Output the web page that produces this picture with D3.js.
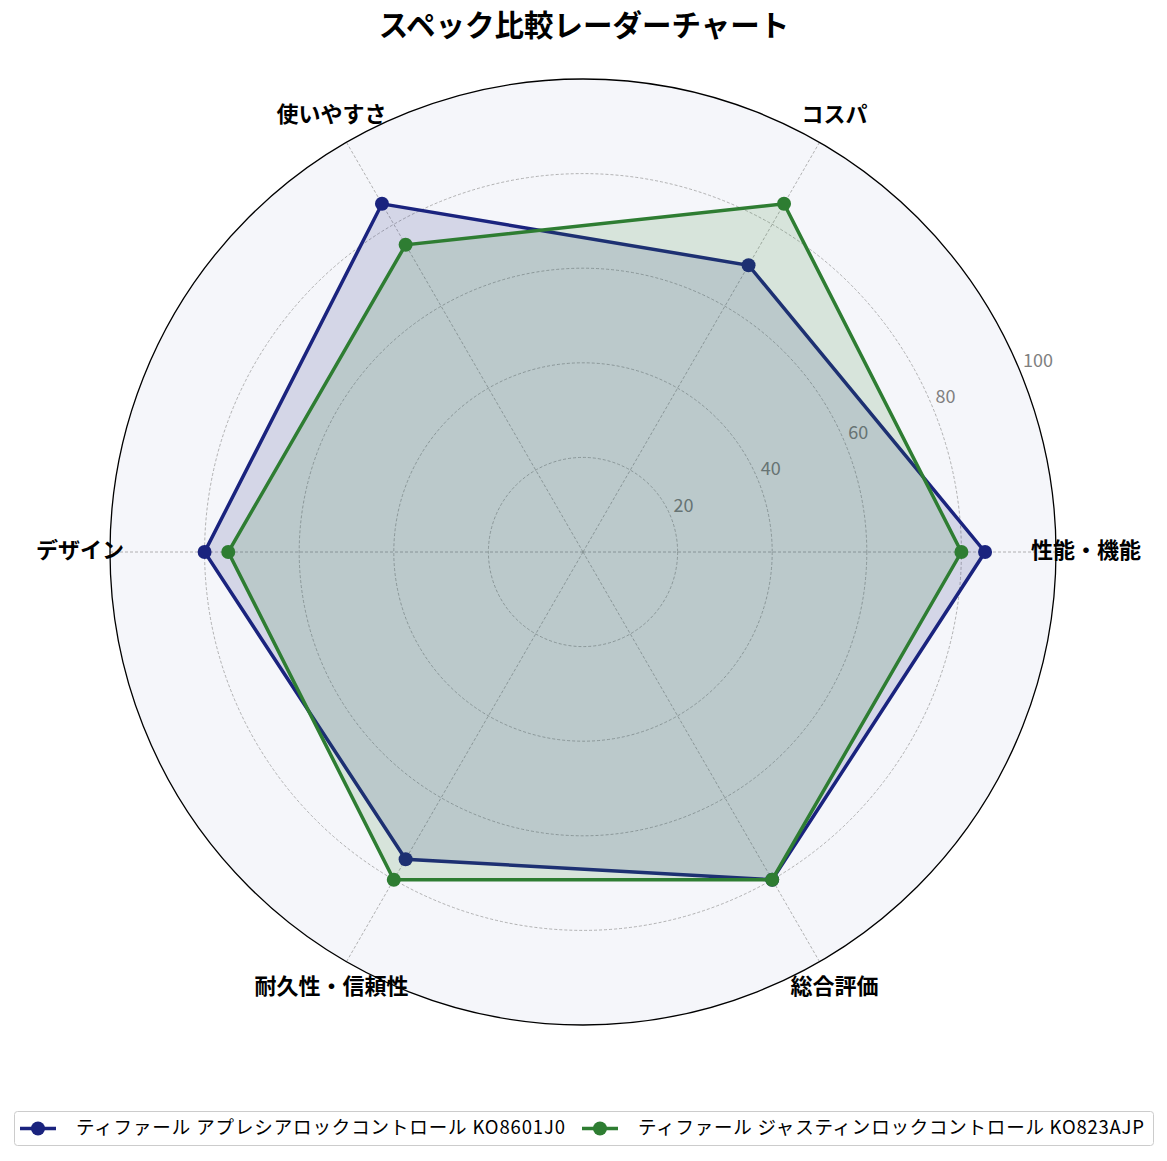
<!DOCTYPE html>
<html>
<head>
  <meta charset="utf-8">
  <script src="https://d3js.org/d3.v7.min.js"></script>
  <style>
    body { margin: 0; background: #fff; }
    text { font-family: "Noto Sans CJK JP", "Noto Sans", sans-serif; }
  </style>
</head>
<body>
<script>
// data
var categories = ["性能・機能", "コスパ", "使いやすさ", "デザイン", "耐久性・信頼性", "総合評価"];
var seriesNames = ["ティファール アプレシアロックコントロール KO8601J0", "ティファール ジャスティンロックコントロール KO823AJP"];
var seriesA = [85, 70, 85, 80, 75, 80];
var seriesB = [80, 85, 75, 75, 80, 80];
var ringTicks = [20, 40, 60, 80, 100];
var colors = ["#1a237e", "#2e7d32"];

var W = 1167, H = 1161;
var cx = 583, cy = 552, R = 473;

var svg = d3.select("body").append("svg")
  .attr("width", W).attr("height", H);

// title
svg.append("text")
  .attr("x", cx + 1).attr("y", 28)
  .attr("text-anchor", "middle").attr("dominant-baseline", "middle")
  .attr("font-size", 29.5).attr("font-weight", "bold")
  .text("スペック比較レーダーチャート");

var r = d3.scaleLinear().domain([0, 100]).range([0, R]);
// first category at 3 o'clock, going counter-clockwise
var ang = function(i) { return i * 2 * Math.PI / categories.length; };
var px = function(i, v) { return cx + r(v) * Math.cos(ang(i)); };
var py = function(i, v) { return cy - r(v) * Math.sin(ang(i)); };

var g = svg.append("g");

// background
g.append("circle").attr("cx", cx).attr("cy", cy).attr("r", R)
  .attr("fill", "#f5f6fa");

// ring grid
g.selectAll(".ring").data(ringTicks.slice(0, -1)).enter().append("circle")
  .attr("cx", cx).attr("cy", cy).attr("r", function(d) { return r(d); })
  .attr("fill", "none").attr("stroke", "#a0a0a0")
  .attr("stroke-width", 0.8).attr("stroke-dasharray", "3,2");

// spokes
g.selectAll(".spoke").data(categories).enter().append("line")
  .attr("x1", cx).attr("y1", cy)
  .attr("x2", function(d, i) { return px(i, 100); })
  .attr("y2", function(d, i) { return py(i, 100); })
  .attr("stroke", "#a0a0a0").attr("stroke-width", 0.8).attr("stroke-dasharray", "3,2");

// radial tick labels at 22.5 deg (left aligned, just above the ring)
var la = 22.5 * Math.PI / 180;
g.selectAll(".rlab").data(ringTicks).enter().append("text")
  .attr("x", function(d) { return cx + r(d) * Math.cos(la) + 3; })
  .attr("y", function(d) { return cy - r(d) * Math.sin(la) - 9; })
  .attr("text-anchor", "start").attr("dominant-baseline", "middle")
  .attr("font-size", 18).attr("fill", "#808080")
  .text(function(d) { return d; });

// series
var line = d3.line().curve(d3.curveLinearClosed);
[seriesA, seriesB].forEach(function(vals, s) {
  var pts = vals.map(function(v, i) { return [px(i, v), py(i, v)]; });
  g.append("path").attr("d", line(pts))
    .attr("fill", colors[s]).attr("fill-opacity", 0.15)
    .attr("stroke", colors[s]).attr("stroke-width", 3.5)
    .attr("stroke-linejoin", "miter");
  g.selectAll(".pt" + s).data(pts).enter().append("circle")
    .attr("cx", function(d) { return d[0]; }).attr("cy", function(d) { return d[1]; })
    .attr("r", 7).attr("fill", colors[s]);
});

// outer spine
g.append("circle").attr("cx", cx).attr("cy", cy).attr("r", R)
  .attr("fill", "none").attr("stroke", "#000").attr("stroke-width", 1.3);

// category labels
g.selectAll(".cat").data(categories).enter().append("text")
  .attr("x", function(d, i) { return cx + 503 * Math.cos(ang(i)); })
  .attr("y", function(d, i) { return cy - 503 * Math.sin(ang(i)); })
  .attr("text-anchor", "middle").attr("dominant-baseline", "middle")
  .attr("font-size", 22).attr("font-weight", "bold")
  .text(function(d) { return d; });

// legend
var lg = svg.append("g");
lg.append("rect").attr("x", 14.5).attr("y", 1111.5).attr("width", 1139).attr("height", 34)
  .attr("rx", 3).attr("fill", "#fff").attr("stroke", "#cccccc").attr("stroke-width", 1);
var lx = [20, 582];
var lw = [489, 506];
seriesNames.forEach(function(name, s) {
  var e = lg.append("g");
  e.append("line").attr("x1", lx[s]).attr("x2", lx[s] + 36)
    .attr("y1", 1128.5).attr("y2", 1128.5)
    .attr("stroke", colors[s]).attr("stroke-width", 3.5);
  e.append("circle").attr("cx", lx[s] + 18).attr("cy", 1128.5).attr("r", 7).attr("fill", colors[s]);
  e.append("text").attr("x", lx[s] + 56).attr("y", 1129)
    .attr("dominant-baseline", "middle").attr("font-size", 18.5)
    .attr("textLength", lw[s]).attr("lengthAdjust", "spacing")
    .text(name);
});
</script>
</body>
</html>
